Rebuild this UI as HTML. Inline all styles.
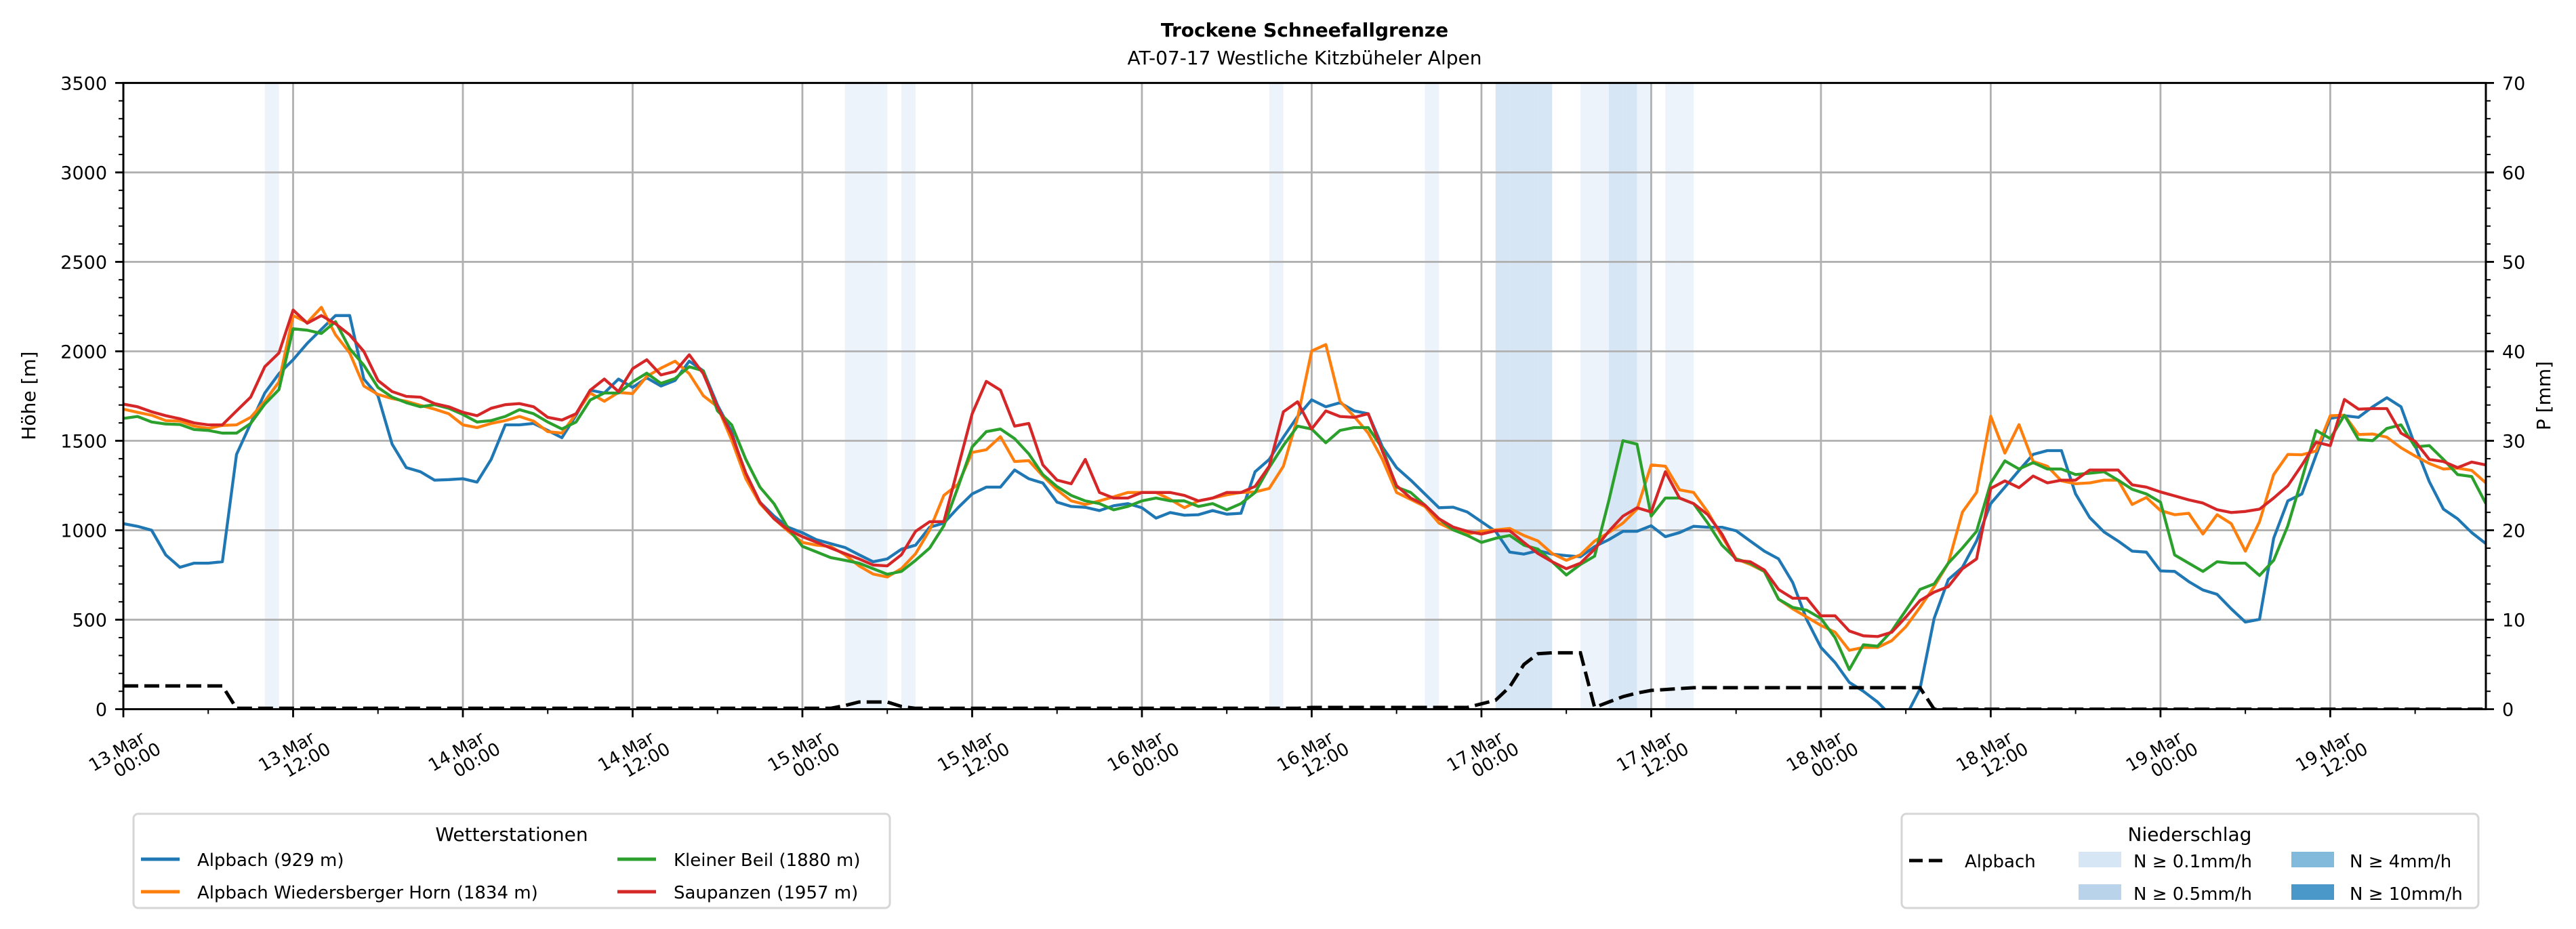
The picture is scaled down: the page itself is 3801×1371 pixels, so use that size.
<!DOCTYPE html>
<html><head><meta charset="utf-8"><style>
html,body{margin:0;padding:0;background:#fff}
svg{display:block;font-family:"DejaVu Sans","Liberation Sans",sans-serif}
</style></head><body>
<svg id="chart" xmlns="http://www.w3.org/2000/svg" width="3801" height="1371" viewBox="0 0 3801 1371">
<rect x="0" y="0" width="3801" height="1371" fill="#fff"/>
<text x="1925" y="54" text-anchor="middle" font-size="28" font-weight="bold">Trockene Schneefallgrenze</text>
<text x="1925" y="95" text-anchor="middle" font-size="28">AT-07-17 Westliche Kitzbüheler Alpen</text>
<defs><clipPath id="pc"><rect x="182" y="122.4" width="3486" height="924.2"/></clipPath></defs>
<g id="bands" clip-path="url(#pc)"></g>
<g id="grid"></g>
<g id="series" clip-path="url(#pc)"></g>
<g id="axes"></g>
<text transform="translate(52,584) rotate(-90)" text-anchor="middle" font-size="28">Höhe [m]</text>
<text transform="translate(3763,584) rotate(-90)" text-anchor="middle" font-size="28">P [mm]</text>
<g>
<rect x="197" y="1201" width="1116" height="139" rx="7" fill="#fff" stroke="#d6d6d6" stroke-width="3"/>
<text x="755" y="1241" text-anchor="middle" font-size="28">Wetterstationen</text>
<g><line x1="208" y1="1268" x2="265" y2="1268" stroke="#1f77b4" stroke-width="5"/><text x="291" y="1278" font-size="26">Alpbach (929 m)</text></g>
<g><line x1="208" y1="1316" x2="265" y2="1316" stroke="#ff7f0e" stroke-width="5"/><text x="291" y="1326" font-size="26">Alpbach Wiedersberger Horn (1834 m)</text></g>
<g><line x1="911" y1="1268" x2="968" y2="1268" stroke="#2ca02c" stroke-width="5"/><text x="994" y="1278" font-size="26">Kleiner Beil (1880 m)</text></g>
<g><line x1="911" y1="1316" x2="968" y2="1316" stroke="#d62728" stroke-width="5"/><text x="994" y="1326" font-size="26">Saupanzen (1957 m)</text></g>
</g>
<g>
<rect x="2806" y="1201" width="851" height="139" rx="7" fill="#fff" stroke="#d6d6d6" stroke-width="3"/>
<text x="3231" y="1241" text-anchor="middle" font-size="28">Niederschlag</text>
<g><line x1="2817" y1="1270" x2="2872" y2="1270" stroke="#000" stroke-width="5" stroke-dasharray="20,9"/><text x="2899" y="1280" font-size="26">Alpbach</text></g>
<g><rect x="3067" y="1257" width="63" height="23" fill="#d6e6f4"/><text x="3148" y="1280" font-size="26">N ≥ 0.1mm/h</text></g>
<g><rect x="3067" y="1305" width="63" height="23" fill="#b9d4ea"/><text x="3148" y="1328" font-size="26">N ≥ 0.5mm/h</text></g>
<g><rect x="3381" y="1257" width="63" height="23" fill="#82badb"/><text x="3467" y="1280" font-size="26">N ≥ 4mm/h</text></g>
<g><rect x="3381" y="1305" width="63" height="23" fill="#4a97c9"/><text x="3467" y="1328" font-size="26">N ≥ 10mm/h</text></g>
</g>
</svg>
<script>
const alpbach=[1037,1022,1000,862,793,816,816,824,1424,1597,1767,1875,1953,2045,2123,2200,2200,1845,1752,1481,1350,1327,1280,1283,1288,1269,1396,1589,1589,1597,1558,1517,1643,1783,1767,1845,1798,1852,1806,1837,1945,1891,
1700,1550,1296,1157,1079,1017,986,947,925,904,863,824,840,894,917,1017,1040,1126,1203,1241,1241,1337,1288,1264,1157,1133,1128,1110,1137,1149,1126,1068,1099,1084,1087,1110,1090,1095,1327,1396,1520,1636,1729,1690,
1713,1667,1651,1466,1350,1280,1203,1126,1129,1102,1048,994,878,867,886,867,858,852,909,947,994,994,1025,964,987,1022,1017,1017,997,940,883,840,708,500,345,260,150,100,40,-40,
-40,113,507,724,793,940,1149,1241,1334,1424,1445,1445,1203,1071,991,940,883,878,773,770,713,666,642,561,487,502,955,1164,1203,1420,1625,1640,1631,1690,1741,1690,1473,1272,1118,1064,987,925];
const wiedersberger=[1677,1659,1643,1613,1610,1582,1569,1586,1589,1631,1721,1829,2200,2161,2246,2092,1991,1806,1759,1736,1721,1698,1677,1651,1589,1574,1597,1613,1636,1610,1551,1543,1651,1767,1721,1770,1764,1860,1906,1945,1875,1752,
1690,1504,1288,1149,1064,994,932,917,909,863,801,755,739,786,869,1002,1195,1257,1435,1450,1523,1384,1389,1303,1226,1164,1144,1164,1187,1211,1211,1211,1172,1126,1164,1180,1198,1211,1214,1234,1358,1628,2002,2038,
1721,1636,1543,1396,1211,1172,1133,1040,1002,979,994,1002,1010,971,940,870,832,863,940,987,1040,1118,1365,1358,1226,1211,1102,964,840,809,770,615,561,515,468,430,329,345,345,383,
461,569,685,816,1102,1211,1637,1431,1590,1384,1358,1276,1260,1265,1280,1280,1144,1183,1110,1087,1095,979,1087,1037,883,1048,1311,1424,1422,1443,1640,1643,1535,1538,1520,1461,1415,1373,1342,1347,1334,1265];
const kleinerBeil=[1625,1636,1605,1594,1591,1563,1558,1543,1543,1597,1705,1786,2126,2118,2100,2166,2015,1922,1798,1744,1713,1690,1702,1682,1647,1605,1613,1636,1674,1651,1605,1566,1605,1728,1767,1767,1829,1878,1821,1848,1914,1891,
1667,1589,1396,1241,1148,1010,910,879,847,832,816,785,754,770,832,901,1025,1241,1466,1551,1566,1512,1427,1311,1244,1195,1164,1149,1114,1133,1164,1180,1164,1164,1133,1149,1114,1149,1211,1351,1474,1582,1566,1489,
1558,1574,1574,1458,1241,1211,1141,1064,1002,971,932,955,971,917,894,824,750,809,855,1164,1501,1481,1079,1180,1180,1149,1040,917,840,816,770,615,569,553,507,399,221,360,352,437,
553,669,700,816,901,994,1264,1388,1342,1378,1342,1342,1311,1319,1327,1280,1229,1203,1157,862,816,770,824,816,816,747,832,1025,1288,1558,1512,1643,1507,1501,1569,1589,1466,1473,1396,1311,1300,1149];
const saupanzen=[1705,1690,1662,1640,1623,1600,1589,1589,1667,1744,1914,1991,2231,2157,2200,2154,2092,1999,1837,1775,1748,1744,1708,1690,1659,1640,1682,1702,1708,1690,1631,1616,1651,1783,1845,1775,1903,1953,1868,1888,1981,1875,
1690,1535,1319,1157,1064,1002,964,933,901,870,840,806,801,863,994,1048,1048,1350,
1651,1832,1783,1582,1597,1365,1280,1260,1396,1211,1180,1180,1211,1211,1211,1195,1164,1180,1211,1211,1245,1358,1662,1718,1566,1667,
1636,1631,1651,1442,1249,1180,1141,1064,1018,994,979,997,997,932,870,824,785,816,894,994,1079,1126,1102,1327,1180,1149,1087,979,832,824,778,669,620,620,522,522,437,410,406,430,
515,607,654,685,785,840,1234,1276,1238,1303,1265,1280,1280,1337,1337,1337,1254,1241,1214,1192,1170,1152,1115,1099,1105,1118,1180,1249,1365,1492,1473,1731,1677,1680,1680,1543,1497,1396,1384,1350,1381,1365];
const precipAlpbach=[2.6,2.6,2.6,2.6,2.6,2.6,2.6,2.6,
0.1,0.1,0.1,0.1,0.1,0.1,0.1,0.1,0.1,0.1,0.1,0.1,0.1,0.1,0.1,0.1,0.1,0.1,0.1,0.1,0.1,0.1,0.1,0.1,0.1,0.1,0.1,0.1,0.1,0.1,0.1,0.1,0.1,0.1,0.1,0.1,0.1,0.1,0.1,0.1,0.1,0.1,0.1,
0.4,0.8,0.8,0.8,0.3,
0.1,0.1,0.1,0.1,0.1,0.1,0.1,0.1,0.1,0.1,0.1,0.1,0.1,0.1,0.1,0.1,0.1,0.1,0.1,0.1,0.1,0.1,0.1,0.1,0.1,0.1,0.1,0.1,
0.2,0.2,0.2,0.2,0.2,0.2,0.2,0.2,0.2,0.2,0.2,0.2,
0.6,1.0,2.5,5.0,6.2,6.3,6.3,6.3,
0.2,0.8,1.4,1.8,2.1,2.2,2.3,2.4,
2.4,2.4,2.4,2.4,2.4,2.4,2.4,2.4,2.4,2.4,2.4,2.4,2.4,2.4,2.4,2.4,
0,0,0,0,0,0,0,0,0,0,0,0,0,0,0,0,0,0,0,0,0,0,0,0,0,0,0,0,0,0,0,0,0,0,0,0,0,0,0,0];
const bandHours=[10,51,52,53,55,81,92,97,98,99,100,103,104,105,106,107,109,110];
const bandLevels=[1,1,1,1,1,1,1,2,2,2,2,1,1,2,2,1,1,1];
const xTickLabels=["13.Mar\n00:00","13.Mar\n12:00","14.Mar\n00:00","14.Mar\n12:00","15.Mar\n00:00","15.Mar\n12:00","16.Mar\n00:00","16.Mar\n12:00","17.Mar\n00:00","17.Mar\n12:00","18.Mar\n00:00","18.Mar\n12:00","19.Mar\n00:00","19.Mar\n12:00"];
const yTicks=[0,500,1000,1500,2000,2500,3000,3500];
const y2Ticks=[0,10,20,30,40,50,60,70];

const NS="http://www.w3.org/2000/svg";
const X0=182,X1=3668,Y0=1046.6,YT=122.4,HMAX=167,VMAX=3500,PMAX=70;
const xs=h=>X0+h*(X1-X0)/HMAX;
const ys=v=>Y0-v*(Y0-YT)/VMAX;
const yp=p=>Y0-p*(Y0-YT)/PMAX;
function mk(tag,attrs,parent){const e=document.createElementNS(NS,tag);for(const k in attrs)e.setAttribute(k,attrs[k]);parent.appendChild(e);return e;}
const gB=document.getElementById('bands'),gG=document.getElementById('grid'),gS=document.getElementById('series'),gA=document.getElementById('axes');
const bandColors=['#ffffff','#edf3fa','#d6e6f4','#b9d4ea','#82badb'];
bandHours.forEach((h,i)=>{
  const r=mk('rect',{x:xs(h),y:YT,width:xs(h+1)-xs(h),height:Y0-YT,fill:bandColors[bandLevels[i]]},gB);
  
  
});
xTickLabels.forEach((l,i)=>{
  const x=xs(i*12);
  if(i>0){const g=mk('line',{x1:x,y1:YT,x2:x,y2:Y0,stroke:'#b0b0b0','stroke-width':2.8},gG);
  
  }
});
yTicks.forEach(v=>{
  if(v>0&&v<VMAX){const g=mk('line',{x1:X0,y1:ys(v),x2:X1,y2:ys(v),stroke:'#b0b0b0','stroke-width':2.8},gG);
  
  }
});
function series(arr,color,name){
  const d=arr.map((v,h)=>(h?'L':'M')+xs(h).toFixed(1)+','+ys(v).toFixed(1)).join('');
  const p=mk('path',{d:d,fill:'none',stroke:color,'stroke-width':4.3,'stroke-linejoin':'round'},gS);
  
  
}
series(alpbach,'#1f77b4','line-alpbach');
series(wiedersberger,'#ff7f0e','line-wiedersberger-horn');
series(kleinerBeil,'#2ca02c','line-kleiner-beil');
series(saupanzen,'#d62728','line-saupanzen');
{
  const d=precipAlpbach.map((p,h)=>(h?'L':'M')+xs(h).toFixed(1)+','+yp(p).toFixed(1)).join('');
  const p=mk('path',{d:d,fill:'none',stroke:'#000','stroke-width':5,'stroke-dasharray':'22,9'},gS);
  
  
}
const sp=mk('rect',{x:X0,y:YT,width:X1-X0,height:Y0-YT,fill:'none',stroke:'#000','stroke-width':3},gA);


for(let h=0;h<=HMAX;h+=6){
  const major=h%12===0;
  mk('line',{x1:xs(h),y1:Y0,x2:xs(h),y2:Y0+(major?12:7),stroke:'#000','stroke-width':major?2.8:2},gA);
}
xTickLabels.forEach((l,i)=>{
  const x=xs(i*12);
  const t=mk('text',{transform:`translate(${x+34},${1094}) rotate(-30)`,'text-anchor':'end','font-size':26},gA);
  
  
  l.split('\n').forEach((s,j)=>{const ts=mk('tspan',{x:j?12:0,dy:j?'1.0em':'0'},t);ts.textContent=s;});
});
for(let v=0;v<=VMAX;v+=100){
  const major=v%500===0;
  mk('line',{x1:X0,y1:ys(v),x2:X0-(major?12:7),y2:ys(v),stroke:'#000','stroke-width':major?2.8:2},gA);
}
yTicks.forEach(v=>{
  const t=mk('text',{x:158,y:ys(v)+10,'text-anchor':'end','font-size':27},gA);
  t.textContent=v;
  
  
});
for(let p=0;p<=PMAX;p+=2){
  const major=p%10===0;
  mk('line',{x1:X1,y1:yp(p),x2:X1+(major?12:7),y2:yp(p),stroke:'#000','stroke-width':major?2.8:2},gA);
}
y2Ticks.forEach(p=>{
  const t=mk('text',{x:3692,y:yp(p)+10,'text-anchor':'start','font-size':27},gA);
  t.textContent=p;
  
  
});
</script>
</body></html>
